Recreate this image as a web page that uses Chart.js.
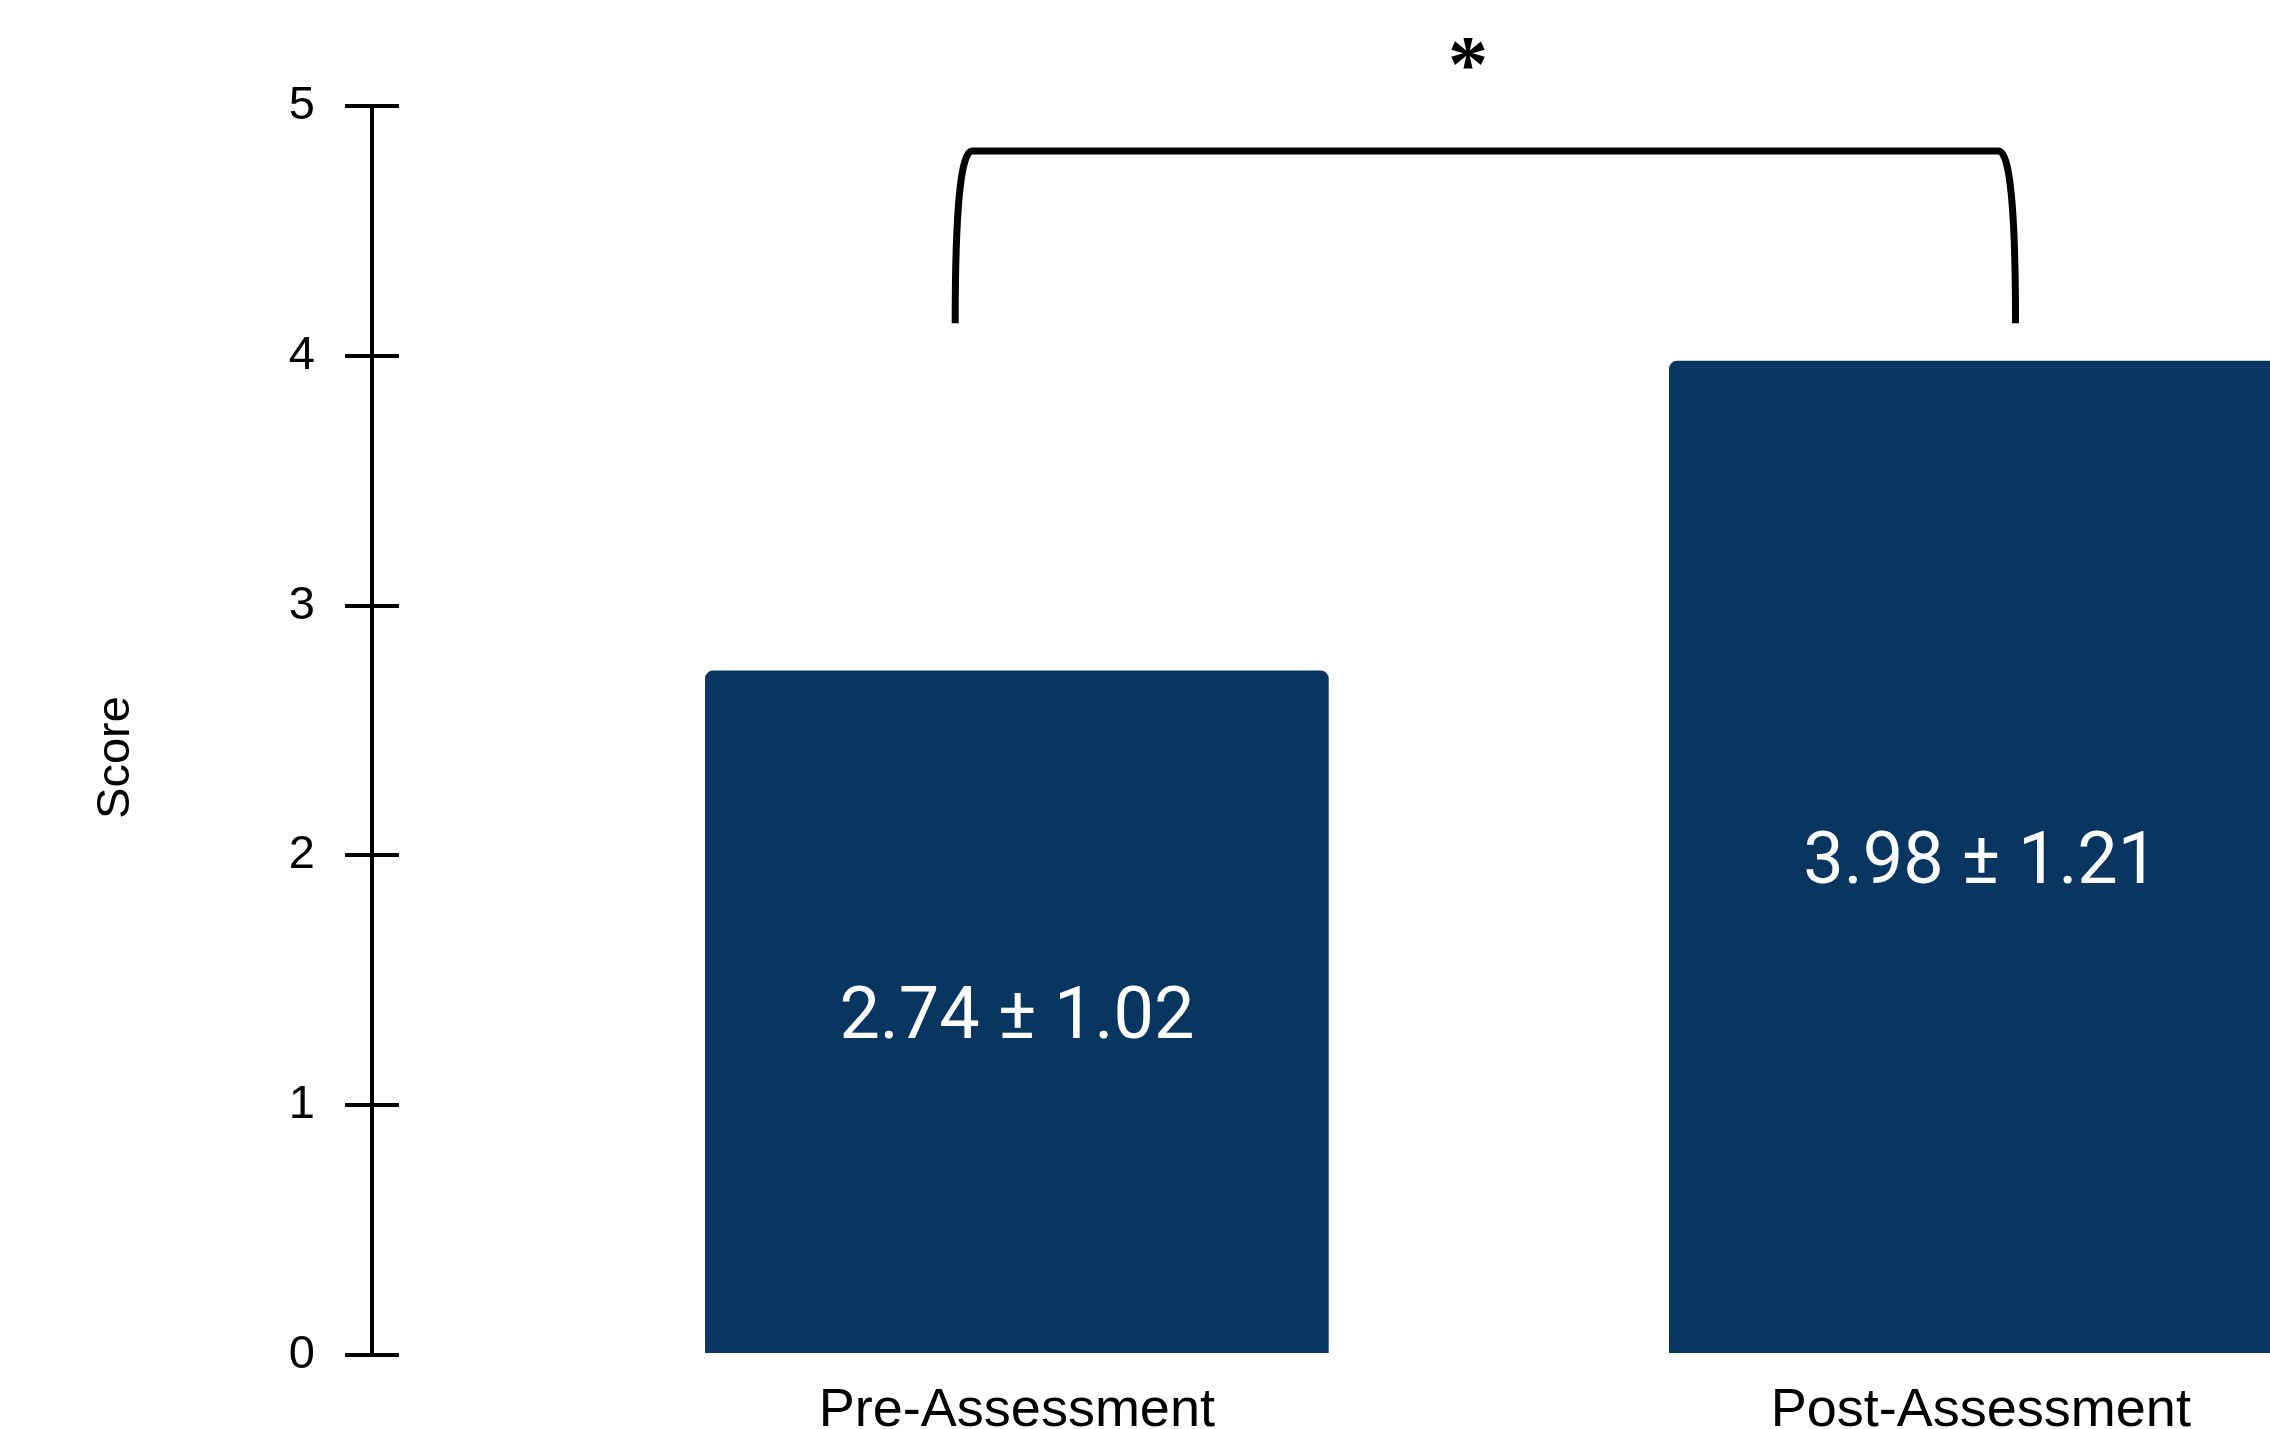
<!DOCTYPE html>
<html>
<head>
<meta charset="utf-8">
<script src="https://cdn.jsdelivr.net/npm/chart.js@4"></script>
<style>
  html, body { margin: 0; padding: 0; background: #fff; overflow: hidden; }
  #wrap { width: 2270px; height: 1429px; }
</style>
</head>
<body>
<div id="wrap"><canvas id="score-chart"></canvas></div>
<script>
// Chart data
const categories = ['Pre-Assessment', 'Post-Assessment'];
const means = [2.74, 3.98];
const sds = [1.02, 1.21];
const yTicks = [0, 1, 2, 3, 4, 5];
const yTitle = 'Score';
const sigMark = '*';

// Significance bracket, in axis units
const bracketX = [0.936, 2.036];
const bracketY = [4.13, 4.82];
const markAt = [1.468, 5.21];

// Visible x window (second bar runs off the right edge)
const xRange = [0.331, 2.30];

const BAR_COLOR = '#083660';
const SANS = '"Liberation Sans", Arial, sans-serif';

// draw text with its ink centred on (cx, cy)
function inkCentered(ctx, text, cx, cy) {
  ctx.textAlign = 'center';
  ctx.textBaseline = 'alphabetic';
  const m = ctx.measureText(text);
  ctx.fillText(text, cx, cy + (m.actualBoundingBoxAscent - m.actualBoundingBoxDescent) / 2);
}

const extras = {
  id: 'extras',
  afterDatasetsDraw(chart) {
    const { ctx } = chart;
    const meta = chart.getDatasetMeta(0);
    ctx.save();
    ctx.fillStyle = '#fff';
    ctx.font = '72px Roboto';
    meta.data.forEach((bar, i) => {
      inkCentered(ctx, `${means[i].toFixed(2)} ± ${sds[i].toFixed(2)}`, bar.x, (bar.y + bar.base) / 2);
    });
    ctx.restore();
  },
  afterDraw(chart) {
    const { ctx, chartArea, scales: { x, y } } = chart;
    ctx.save();

    // inner half of the y tick marks
    ctx.strokeStyle = '#000';
    ctx.lineWidth = 4;
    yTicks.forEach(v => {
      const py = Math.round(y.getPixelForValue(v));
      ctx.beginPath();
      ctx.moveTo(chartArea.left, py);
      ctx.lineTo(chartArea.left + 27, py);
      ctx.stroke();
    });

    // y axis title
    ctx.fillStyle = '#000';
    ctx.font = '47px ' + SANS;
    ctx.textAlign = 'center';
    ctx.textBaseline = 'middle';
    ctx.translate(116, (chartArea.top + chartArea.bottom) / 2 + 27);
    ctx.rotate(-Math.PI / 2);
    ctx.fillText(yTitle, 0, 0);
    ctx.setTransform(1, 0, 0, 1, 0, 0);

    // significance bracket
    const x0 = x.getPixelForValue(bracketX[0]);
    const x1 = x.getPixelForValue(bracketX[1]);
    const yb = y.getPixelForValue(bracketY[0]);
    const yt = y.getPixelForValue(bracketY[1]);
    const c = 17;
    ctx.lineWidth = 7;
    ctx.lineJoin = 'round';
    ctx.beginPath();
    ctx.moveTo(x0, yb);
    ctx.quadraticCurveTo(x0, yt, x0 + c, yt);
    ctx.lineTo(x1 - c, yt);
    ctx.quadraticCurveTo(x1, yt, x1, yb);
    ctx.stroke();

    // star
    ctx.font = 'bold 80px "Liberation Serif", serif';
    inkCentered(ctx, sigMark, x.getPixelForValue(markAt[0]), y.getPixelForValue(markAt[1]));

    ctx.restore();
  }
};

new Chart(document.getElementById('score-chart'), {
  type: 'bar',
  data: {
    datasets: [{
      data: means.map((m, i) => ({ x: i + 1, y: m })),
      backgroundColor: BAR_COLOR,
      borderRadius: { topLeft: 8, topRight: 8 },
      borderSkipped: 'start',
      barPercentage: 0.647,
      categoryPercentage: 1
    }]
  },
  options: {
    responsive: true,
    maintainAspectRatio: false,
    animation: false,
    layout: { padding: { top: 106, right: 0, bottom: 0, left: 0 } },
    plugins: {
      legend: { display: false },
      tooltip: { enabled: false }
    },
    scales: {
      x: {
        type: 'linear',
        offset: false,
        min: xRange[0],
        max: xRange[1],
        grid: { display: false },
        border: { display: false },
        afterBuildTicks: s => { s.ticks = categories.map((c, i) => ({ value: i + 1 })); },
        afterFit: s => { s.height = 74; },
        ticks: {
          autoSkip: false,
          maxRotation: 0,
          padding: 16,
          color: '#000',
          font: { family: SANS, size: 54 },
          callback: (v, i) => categories[i]
        }
      },
      y: {
        min: 0,
        max: 5,
        afterBuildTicks: s => { s.ticks = yTicks.map(v => ({ value: v })); },
        afterFit: s => { s.width = 372; },
        grid: { drawOnChartArea: false, drawTicks: true, tickLength: 27, color: '#000', lineWidth: 4 },
        border: { display: true, color: '#000', width: 4 },
        ticks: { padding: 30, color: '#000', font: { family: SANS, size: 47 } }
      }
    }
  },
  plugins: [extras]
});
</script>
</body>
</html>
